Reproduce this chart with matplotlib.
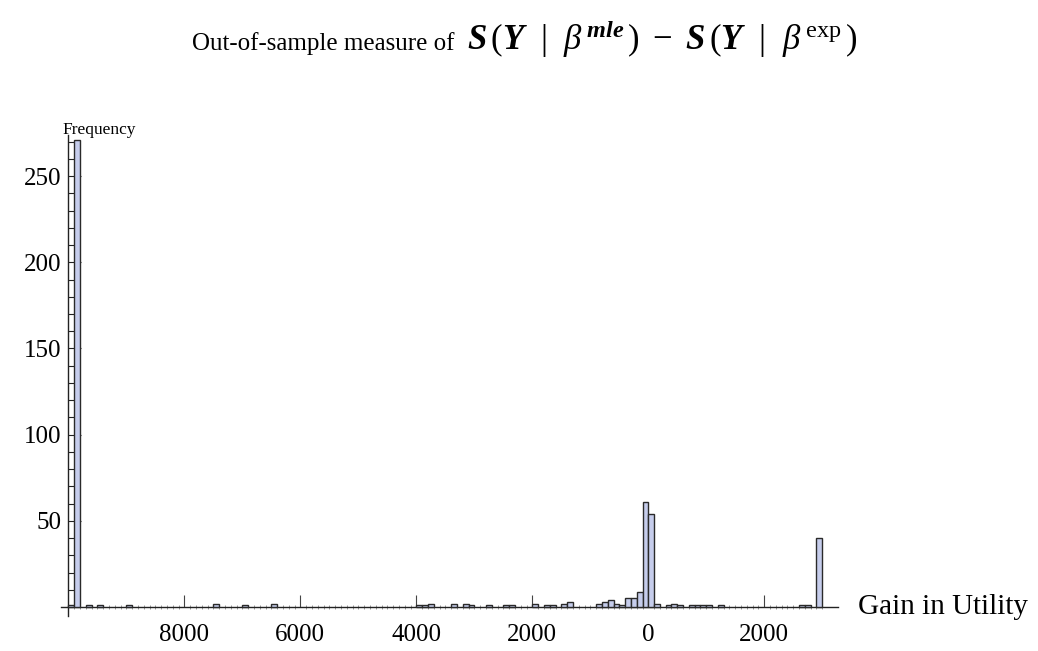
import numpy as np
import matplotlib
matplotlib.use("Agg")
import matplotlib.pyplot as plt
import matplotlib.transforms as mtransforms

plt.rcParams['font.family'] = ['Liberation Serif', 'DejaVu Serif']
plt.rcParams['mathtext.fontset'] = 'custom'
plt.rcParams['mathtext.rm'] = 'Liberation Serif'
plt.rcParams['mathtext.it'] = 'Liberation Serif:italic'
plt.rcParams['mathtext.bf'] = 'Liberation Serif:bold'
plt.rcParams['mathtext.bfit'] = 'Liberation Serif:bold:italic'

# histogram bins: width 100, from -10000 to 3000 (only non-empty bins listed)
bin_width = 100
bin_lo, bin_hi = -10000, 3000
bin_starts = [-10000, -9900, -9700, -9500, -9000, -7500, -7000, -6500,
              -4000, -3900, -3800, -3400, -3200, -3100, -2800, -2500, -2400,
              -2000, -1800, -1700, -1500, -1400, -900, -800, -700, -600,
              -500, -400, -300, -200, -100, 0, 100, 300, 400, 500, 700,
              800, 900, 1000, 1200, 2600, 2700, 2900]
bin_counts = [1, 271, 1, 1, 1, 2, 1, 2,
              1, 1, 2, 2, 2, 1, 1, 1, 1,
              2, 1, 1, 2, 3, 2, 3, 4, 2,
              1, 5, 5, 9, 61, 54, 2, 1, 2, 1, 1,
              1, 1, 1, 1, 1, 1, 40]

x_ticks = [-8000, -6000, -4000, -2000, 0, 2000]
x_tick_labels = ['8000', '6000', '4000', '2000', '0', '2000']
y_ticks = [50, 100, 150, 200, 250]

edges = np.arange(bin_lo, bin_hi, bin_width)
counts = np.zeros(len(edges))
for s, c in zip(bin_starts, bin_counts):
    counts[(s - bin_lo) // bin_width] = c

fig = plt.figure(figsize=(10.38, 6.51), dpi=100)
ax = fig.add_axes([0.0586, 0.0530, 0.749, 0.740])

nz = counts > 0
ax.bar(edges[nz], counts[nz], width=bin_width, align='edge',
       color='#c6cdec', edgecolor='#2a2a2a', linewidth=1.0, zorder=3)

ax.set_xlim(-10130, 3276)
ax.set_ylim(-5.5, 274)

for side in ['top', 'right']:
    ax.spines[side].set_visible(False)
ax.spines['bottom'].set_position(('data', 0))
ax.spines['left'].set_position(('data', bin_lo))
for side in ['bottom', 'left']:
    ax.spines[side].set_linewidth(1.0)
    ax.spines[side].set_color('#222222')

ax.set_xticks(x_ticks)
ax.set_xticklabels(x_tick_labels)
ax.set_xticks(np.arange(bin_lo, bin_hi + 1, bin_width), minor=True)
ax.set_yticks(y_ticks)
ax.set_yticks(np.arange(10, 271, 10), minor=True)

ax.tick_params(axis='x', which='major', direction='in', length=9, width=0.8,
               pad=12, labelsize=18, color='#444444')
ax.tick_params(axis='x', which='minor', direction='inout', length=3, width=0.6,
               color='#888888')
ax.tick_params(axis='y', which='major', direction='in', length=9, width=0.8,
               pad=5, labelsize=18, color='#222222')
ax.tick_params(axis='y', which='minor', direction='in', length=5, width=0.8,
               color='#222222')

# axis labels at the ends of the axes
trans = mtransforms.blended_transform_factory(ax.transAxes, ax.transData)
ax.text(1.025, 0, 'Gain in Utility', transform=trans, fontsize=21,
        ha='left', va='center')
fig.text(62 / 1038, 1 - 130 / 651, 'Frequency', fontsize=12.5,
         ha='left', va='center')

# title: plain words, then the formula set larger
title_y = 1 - 50 / 651
fig.text(455 / 1038, title_y, 'Out-of-sample measure of', fontsize=18,
         ha='right', va='baseline')
fig.text(467 / 1038, title_y,
         r'$\mathbfit{S}\,(\mathbfit{Y}\ \ |\ \ \beta^{\,\mathbfit{mle}}\,)'
         r'\ -\ \mathbfit{S}\,(\mathbfit{Y}\ \ |\ \ \beta^{\,\mathrm{exp}}\,)$',
         fontsize=25, ha='left', va='baseline')

fig.savefig('out.png', dpi=100)
